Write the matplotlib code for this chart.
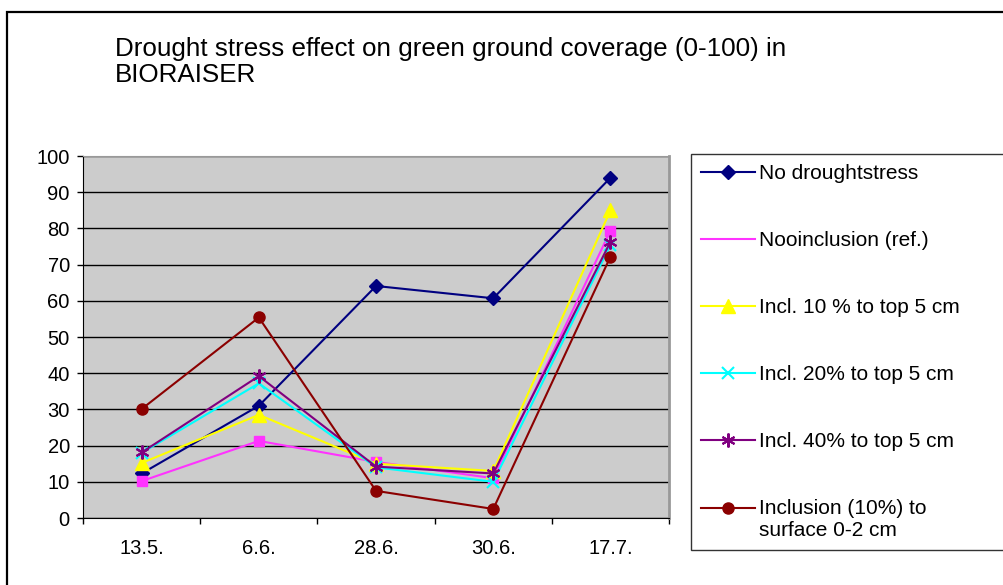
import matplotlib
matplotlib.use("Agg")
import matplotlib.pyplot as plt
from matplotlib.lines import Line2D
from matplotlib.patches import Rectangle
from matplotlib.legend_handler import HandlerLine2D
import numpy as np

plt.rcParams['font.family'] = ['Liberation Sans', 'DejaVu Sans']

# data
dates = ['13.5.', '6.6.', '28.6.', '30.6.', '17.7.']
no_stress = [12.3, 31.0, 64.1, 60.7, 94.0]
no_incl = [10.2, 21.3, 15.5, 11.0, 79.4]
incl_10 = [15.2, 28.5, 15.0, 13.0, 85.0]
incl_20 = [18.0, 37.2, 14.0, 10.0, 75.4]
incl_40 = [18.1, 39.2, 14.2, 12.3, 76.3]
incl_surf = [30.1, 55.4, 7.5, 2.5, 72.2]

labels = ['No droughtstress', 'Nooinclusion (ref.)', 'Incl. 10 % to top 5 cm',
          'Incl. 20% to top 5 cm', 'Incl. 40% to top 5 cm',
          'Inclusion (10%) to\nsurface 0-2 cm']


# legend handle lifted to the first line of a two-line label
class FirstLineHandler(HandlerLine2D):
    def create_artists(self, legend, orig_handle, xdescent, ydescent,
                       width, height, fontsize, trans):
        return super().create_artists(legend, orig_handle, xdescent, ydescent - 17,
                                      width, height, fontsize, trans)


fig = plt.figure(figsize=(10.04, 5.85), dpi=100)
ax = fig.add_axes([0.0827, 0.1145, 0.5837, 0.6188])
ax.set_facecolor('#CCCCCC')

x = np.arange(len(dates))
h1, = ax.plot(x, no_stress, color='#000080', lw=1.5, marker='D', ms=7.5)
h2, = ax.plot(x, no_incl, color='#FF33FF', lw=1.5, marker='s', ms=7)
h3, = ax.plot(x, incl_10, color='#FFFF00', lw=1.5, marker='^', ms=10.5)
h4, = ax.plot(x, incl_20, color='#00FFFF', lw=1.5, marker='x', ms=8, mew=1.5)
h5, = ax.plot(x, incl_40, color='#800080', lw=1.5, marker=(6, 2, 0), ms=10, mew=1.5)
h6, = ax.plot(x, incl_surf, color='#8B0000', lw=1.5, marker='o', ms=8)

ax.set_xlim(-0.5, len(dates) - 0.5)
ax.set_ylim(0, 100)
ax.set_yticks(np.arange(0, 101, 10))
ax.yaxis.grid(True, color='black', lw=1)
ax.set_axisbelow(True)
ax.set_xticks(np.arange(-0.5, len(dates), 1))
ax.set_xticklabels([])
ax.set_xticks(x, minor=True)
ax.set_xticklabels(dates, minor=True)
ax.tick_params(axis='x', which='minor', length=0, pad=15, labelsize=14.5)
ax.tick_params(axis='x', which='major', length=4.5, width=1)
ax.tick_params(axis='y', length=4.5, width=1, pad=5, labelsize=14.5)
for s in ['left', 'bottom']:
    ax.spines[s].set_color('black')
for s in ['top', 'right']:
    ax.spines[s].set_color('#999999')
ax.spines['right'].set_linewidth(2)

fig.text(0.1145, 0.937, 'Drought stress effect on green ground coverage (0-100) in\nBIORAISER',
         fontsize=18.7, ha='left', va='top', linespacing=1.13)

# outer chart border
fig.add_artist(Rectangle((0.0065, -0.1), 1.2, 1.0795, transform=fig.transFigure,
                         fill=False, ec='black', lw=1.6))

pink_handle = Line2D([], [], color='#FF33FF', lw=1.5)
leg = fig.legend([h1, pink_handle, h3, h4, h5, h6], labels, loc='upper left',
                 bbox_to_anchor=(0.688, 0.737, 0.4, 0), mode='expand',
                 fontsize=15, frameon=True, fancybox=False, edgecolor='black',
                 handlelength=2.6, handletextpad=0.18, labelspacing=2.3,
                 borderpad=0.5, borderaxespad=0,
                 handler_map={h6: FirstLineHandler()})
leg.get_frame().set_linewidth(1)

fig.savefig('out.png', dpi=100)
